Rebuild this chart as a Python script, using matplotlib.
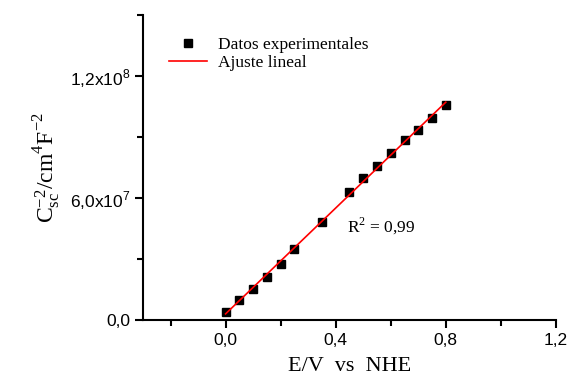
import numpy as np
import matplotlib
matplotlib.use('Agg')
import matplotlib.pyplot as plt
from matplotlib.ticker import MultipleLocator, FuncFormatter

# data
E = [0.00, 0.05, 0.10, 0.15, 0.20, 0.25, 0.35, 0.45, 0.50, 0.55, 0.60, 0.65, 0.70, 0.75, 0.80]
C = [3.8e6, 9.9e6, 15.5e6, 21.2e6, 27.7e6, 34.9e6, 48.4e6, 63.2e6, 70.0e6,
     75.9e6, 82.0e6, 88.4e6, 93.5e6, 99.3e6, 105.7e6]
ytick_labels = {0: '0,0', 6e7: '6,0x10$^{\\mathregular{7}}$', 1.2e8: '1,2x10$^{\\mathregular{8}}$'}
xtick_labels = {0.0: '0,0', 0.4: '0,4', 0.8: '0,8', 1.2: '1,2'}

serif = 'Liberation Serif'
sans = 'Liberation Sans'

fig = plt.figure(figsize=(5.69, 3.78), dpi=100)
ax = fig.add_axes([0.2513, 0.1534, 0.977 - 0.2513, 0.960 - 0.1534])

# linear fit
m, b = np.polyfit(E, C, 1)
xf = np.array([E[0], E[-1]])
ax.plot(E, C, 's', color='black', markersize=6, label='Datos experimentales', zorder=3)
ax.plot(xf, m * xf + b, color='red', lw=1.2, label='Ajuste lineal', zorder=4)

ax.set_xlim(-0.3, 1.2)
ax.set_ylim(0, 1.5e8)
ax.xaxis.set_major_locator(MultipleLocator(0.4))
ax.xaxis.set_minor_locator(MultipleLocator(0.2))
ax.yaxis.set_major_locator(MultipleLocator(6e7))
ax.yaxis.set_minor_locator(MultipleLocator(3e7))
ax.xaxis.set_major_formatter(FuncFormatter(
    lambda v, p: xtick_labels.get(round(v, 1), '')))
ax.yaxis.set_major_formatter(FuncFormatter(
    lambda v, p: ytick_labels.get(round(v / 1e7) * 1e7, '')))

for s in ['top', 'right']:
    ax.spines[s].set_visible(False)
for s in ['left', 'bottom']:
    ax.spines[s].set_linewidth(1.5)
ax.tick_params(which='major', direction='out', length=6, width=1.5, labelsize=12.5, pad=3)
ax.tick_params(which='minor', direction='out', length=4, width=1.5)
for lab in ax.get_xticklabels() + ax.get_yticklabels():
    lab.set_fontfamily(sans)

ax.set_xlabel('E/V  vs  NHE', fontfamily=serif, fontsize=16, labelpad=7)
ax.set_ylabel('$\\mathregular{C_{sc}^{-2}}$/cm$^{\\mathregular{4}}$F$^{\\mathregular{-2}}$',
              fontfamily=serif, fontsize=17, labelpad=6)

ax.text(0.44, 4.3e7, 'R$^{\\mathregular{2}}$ = 0,99', fontfamily=serif, fontsize=12.5)

leg = ax.legend(loc='upper left', bbox_to_anchor=(0.03, 0.975), frameon=False,
                prop={'family': serif, 'size': 12.5}, handlelength=2.2,
                handletextpad=0.6, labelspacing=0.1, borderaxespad=0.4)

fig.savefig('out.png', dpi=100)
